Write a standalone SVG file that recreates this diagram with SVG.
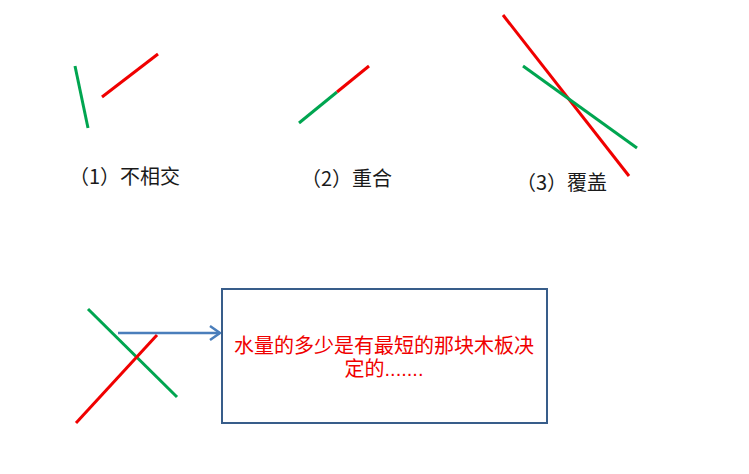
<svg xmlns="http://www.w3.org/2000/svg" width="749" height="474" viewBox="0 0 749 474">
<style>
.g{stroke:#00A550;stroke-width:3;stroke-linecap:butt;fill:none}
.r{stroke:#F00000;stroke-width:3;stroke-linecap:butt;fill:none}
.lbl{font-family:"Noto Sans CJK SC","Liberation Sans",sans-serif;font-size:20px;fill:#1a1a1a}
.msg{font-family:"Liberation Sans","Noto Sans CJK SC",sans-serif;font-size:20px;fill:#F00000;text-anchor:middle}
.arr{stroke:#4A7EBB;stroke-width:2.5;fill:none}
</style>
<rect width="749" height="474" fill="#ffffff"/>
<g id="case1">
<line class="g" x1="75" y1="66" x2="88" y2="128"/>
<line class="r" x1="102" y1="97" x2="158" y2="54"/>
<text class="lbl" x="69" y="184">（1）不相交</text>
</g>
<g id="case2">
<line class="g" x1="299" y1="123" x2="337" y2="92"/>
<line class="r" x1="337" y1="92" x2="369" y2="66"/>
<text class="lbl" x="301" y="186">（2）重合</text>
</g>
<g id="case3">
<line class="r" x1="503" y1="15" x2="629" y2="176"/>
<line class="g" x1="523" y1="66" x2="637" y2="148"/>
<text class="lbl" x="516" y="190">（3）覆盖</text>
</g>
<g id="case4">
<line class="g" x1="88" y1="309" x2="177" y2="397"/>
<line class="r" x1="76" y1="423" x2="157" y2="335"/>
</g>
<g id="connectors">
<line class="arr" x1="118" y1="333" x2="220" y2="333"/>
<polyline class="arr" points="210,326 220,333 210,340"/>
</g>
<g id="note">
<rect x="222" y="289" width="325" height="134" fill="#ffffff" stroke="#385D8A" stroke-width="2"/>
<text class="msg" x="384" y="353">水量的多少是有最短的那块木板决</text>
<text class="msg" x="384" y="376">定的.......</text>
</g>
</svg>
